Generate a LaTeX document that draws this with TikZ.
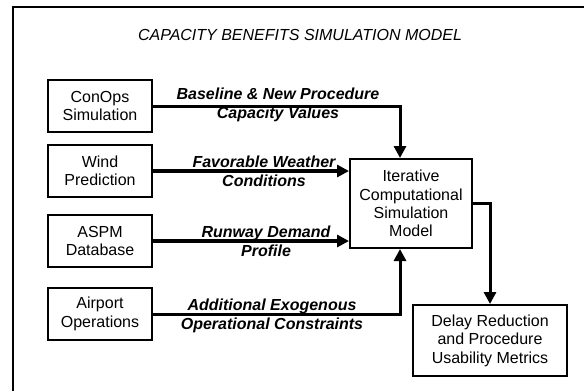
\documentclass[tikz,border=0pt]{standalone}
\usepackage{fontspec}
\setmainfont{Liberation Sans}
\usetikzlibrary{arrows.meta}
\begin{document}
\begin{tikzpicture}[x=0.75pt,y=-0.75pt,
  box/.style={draw, line width=1.5pt, align=center, inner sep=0pt,
    minimum width=78pt, minimum height=39pt, font=\fontsize{12}{13.8}\selectfont},
  lbl/.style={align=center, inner sep=0pt, font=\fontsize{12}{14.5}\selectfont\bfseries\itshape},
  flow/.style={line width=2.25pt, -{Triangle[length=9pt,width=9pt]}}]
\useasboundingbox (0,0) rectangle (584,390);
\clip (0,0) rectangle (584,390);
\draw[line width=1.5pt] (13,7) rectangle (600,400);

\node[font=\fontsize{12}{14}\selectfont\itshape] (title) at (300,35) {CAPACITY BENEFITS SIMULATION MODEL};

\node[box] (conops) at (100,106) {ConOps\\Simulation};
\node[box] (wind) at (100,171) {Wind\\Prediction};
\node[box] (aspm) at (100,241) {ASPM\\Database};
\node[box] (airport) at (100,314) {Airport\\Operations};
\node[box, minimum width=91.5pt, minimum height=66.75pt] (model) at (411,203.5) {Iterative\\Computational\\Simulation\\Model};
\node[box, minimum width=115.5pt, minimum height=53.25pt] (delay) at (490,340.5) {Delay Reduction\\and Procedure\\Usability Metrics};

\draw[flow] (conops.east) -| ([xshift=-8.25pt]model.north);
\draw[flow, line width=3pt] (wind.east) -- (wind.east -| model.west);
\draw[flow, line width=3pt] (aspm.east) -- (aspm.east -| model.west);
\draw[flow] (airport.east) -| ([xshift=-8.25pt]model.south);
\draw[flow] (model.east) -| (delay.north);

\node[lbl] (l1) at (278,105) {Baseline \& New Procedure\\Capacity Values};
\node[lbl] (l2) at (264,171) {Favorable Weather\\Conditions};
\node[lbl] (l3) at (266,241) {Runway Demand\\Profile};
\node[lbl] (l4) at (272,316) {Additional Exogenous\\Operational Constraints};
\end{tikzpicture}
\end{document}
